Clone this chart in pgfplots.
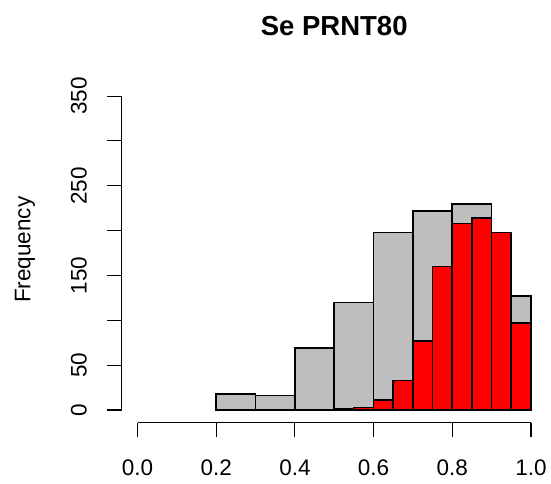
\documentclass[border=0pt]{standalone}
\usepackage{pgfplots}
\pgfplotsset{compat=1.18}
\usepackage{fontspec}
\setmainfont{Liberation Sans}
\definecolor{rgray}{RGB}{190,190,190}
\definecolor{rred}{RGB}{255,0,0}
\pgfplotstableread{
x y
0.2 18
0.3 16
0.4 69
0.5 120
0.6 198
0.7 222
0.8 230
0.9 127
1.0 127
}\graydata
\pgfplotstableread{
x y
0.5 1
0.55 3
0.6 11
0.65 33
0.7 77
0.75 160
0.8 208
0.85 214
0.9 198
0.95 97
1.0 97
}\reddata
\begin{document}
\begin{tikzpicture}
\begin{axis}[
  scale only axis, width=424.9bp, height=339.1bp,
  xmin=-0.04, xmax=1.04, ymin=-14, ymax=364,
  clip=false,
  axis line style={draw=none},
  xtick pos=bottom, ytick pos=left,
  tick align=outside,
  major tick length=14.5bp,
  tick style={black, line width=1.1bp},
  xtick={0,0.2,0.4,0.6,0.8,1},
  xticklabels={0.0,0.2,0.4,0.6,0.8,1.0},
  ytick={0,50,100,150,200,250,300,350},
  yticklabels={0,50,,150,,250,,350},
  /pgf/number format/assume math mode=true,
  ticklabel style={font=\fontsize{22.5bp}{27bp}\selectfont, inner sep=0pt},
  xticklabel style={anchor=base},
  xticklabel shift=38.5bp,
  yticklabel style={rotate=90, anchor=base},
  yticklabel shift=20.6bp,
  title={\textbf{Se PRNT80}},
  every axis title/.style={at={(axis description cs:0.5,1)}, anchor=base, yshift=48.4bp, inner sep=0pt, font=\fontsize{27.5bp}{33bp}\selectfont},
  ylabel={Frequency},
  every axis y label/.style={at={(axis description cs:0,0.51)}, xshift=-91.5bp, rotate=90, anchor=base, inner sep=0pt, font=\fontsize{22.5bp}{27bp}\selectfont},
]
\addplot[ybar interval, fill=rgray, draw=none] table[x=x,y=y] {\graydata};
\addplot[ybar interval, fill=none, draw=black, line width=1.6bp] table[x=x,y=y] {\graydata};
\addplot[ybar interval, fill=rred, draw=none] table[x=x,y=y] {\reddata};
\addplot[ybar interval, fill=none, draw=black, line width=1.6bp] table[x=x,y=y] {\reddata};
\draw[black, line width=1.1bp] (axis cs:0,-14) -- (axis cs:1,-14);
\draw[black, line width=1.1bp] (axis cs:-0.04,0) -- (axis cs:-0.04,350);
\end{axis}
\path (current axis.south west) ++(-121.8bp,-61.4bp) rectangle ++(551bp,484bp);
\end{tikzpicture}
\end{document}
